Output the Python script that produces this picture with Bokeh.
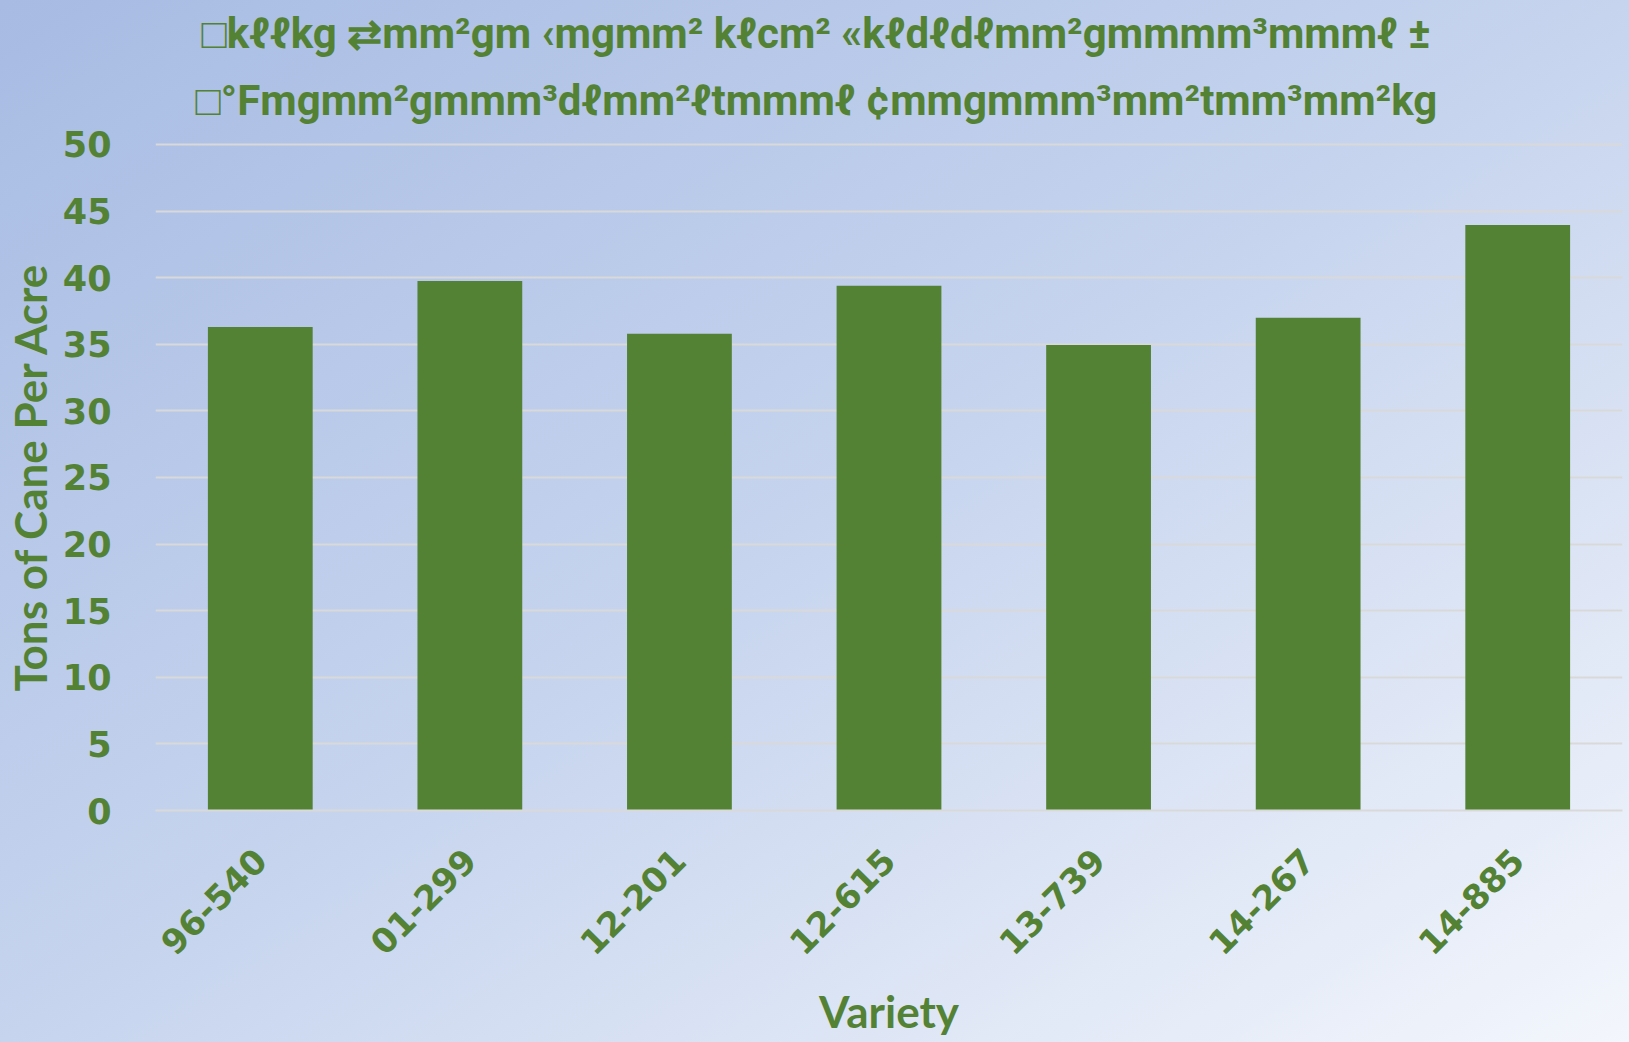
import math
from bokeh.plotting import figure
from bokeh.models import Title, FactorRange, ColumnDataSource
from bokeh.embed import file_html
from bokeh.resources import INLINE

varieties = ["96-540", "01-299", "12-201", "12-615", "13-739", "14-267", "14-885"]
tons_per_acre = [36.3, 39.75, 35.8, 39.4, 34.95, 37.0, 43.95]
y_ticks = [0, 5, 10, 15, 20, 25, 30, 35, 40, 45, 50]
title_lines = [
    "\u25a1k\u2113\u2113kg \u21c4mm\u00b2gm \u2039mgmm\u00b2 k\u2113cm\u00b2 \u00abk\u2113d\u2113d\u2113mm\u00b2gmmmm\u00b3mmm\u2113 \u00b1",
    "\u25a1\u00b0Fmgmm\u00b2gmmm\u00b3d\u2113mm\u00b2\u2113tmmm\u2113 \u00a2mmgmmm\u00b3mm\u00b2tmm\u00b3mm\u00b2kg",
]
x_title = "Variety"
y_title = "Tons of Cane Per Acre"

GREEN = "#548235"
GRID = "#d9d9d9"

src = ColumnDataSource(dict(x=varieties, top=tons_per_acre))

p = figure(
    width=1629, height=1042,
    x_range=FactorRange(factors=varieties),
    y_range=(0, 50.15),
    output_backend="svg", toolbar_location=None,
    min_border_left=154, min_border_right=7, min_border_top=142, min_border_bottom=232,
)
p.border_fill_color = None
p.background_fill_color = None
p.outline_line_color = None
p.styles = {"background": "linear-gradient(to bottom right, #a7bbe3 0%, #c6d4ee 50%, #f3f6fc 100%)"}

p.vbar(x="x", top="top", width=0.5, source=src, fill_color=GREEN, line_color=None)

# titles (two lines); line 2 is nearest the frame
for line, off, so in [(title_lines[1], 40, 35), (title_lines[0], 46, -2)]:
    p.add_layout(Title(text=line, align="left", offset=off, standoff=so, text_color=GREEN,
                       text_font="Roboto", text_font_size="42px",
                       text_font_style="bold"), "above")

# y axis
p.yaxis.ticker = y_ticks
p.yaxis.axis_line_color = None
p.yaxis.major_tick_line_color = None
p.yaxis.minor_tick_line_color = None
p.yaxis.major_label_text_font = "DejaVu Sans"
p.yaxis.major_label_text_font_style = "bold"
p.yaxis.major_label_text_font_size = "35px"
p.yaxis.major_label_text_color = GREEN
p.yaxis.major_label_standoff = 38
p.yaxis.axis_label = y_title
p.yaxis.axis_label_text_font = "Lato"
p.yaxis.axis_label_text_font_style = "bold"
p.yaxis.axis_label_text_font_size = "44px"
p.yaxis.axis_label_text_color = GREEN
p.yaxis.axis_label_standoff = 4

# x axis
p.xaxis.axis_line_color = GRID
p.xaxis.axis_line_width = 2
p.xaxis.major_tick_line_color = None
p.xaxis.minor_tick_line_color = None
p.xaxis.major_label_orientation = math.pi / 4
p.xaxis.major_label_text_font = "DejaVu Sans"
p.xaxis.major_label_text_font_style = "bold"
p.xaxis.major_label_text_font_size = "34px"
p.xaxis.major_label_text_color = GREEN
p.xaxis.major_label_standoff = 38
p.xaxis.axis_label = x_title
p.xaxis.axis_label_text_font = "Lato"
p.xaxis.axis_label_text_font_style = "bold"
p.xaxis.axis_label_text_font_size = "44px"
p.xaxis.axis_label_text_color = GREEN
p.xaxis.axis_label_standoff = 16

p.xgrid.grid_line_color = None
p.ygrid.grid_line_color = GRID
p.ygrid.grid_line_width = 2

open("out.html", "w").write(file_html(p, INLINE))
